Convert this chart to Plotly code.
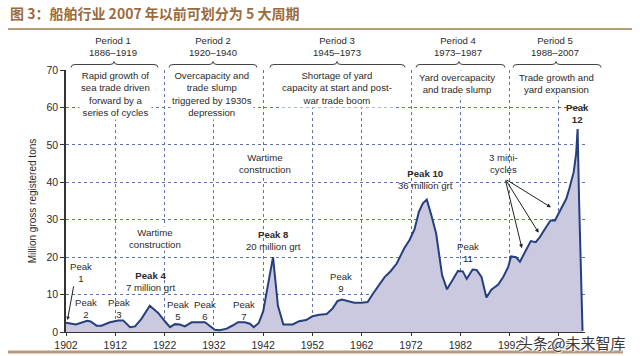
import plotly.graph_objects as go

# ---------------- data ----------------
years = [1902, 1904, 1906.3, 1907, 1908.2, 1909.2, 1910.9, 1912.6, 1913.6, 1915, 1916,
         1917.3, 1919, 1920.7, 1922.1, 1923.1, 1924.1, 1925.1, 1926.1, 1927.5, 1929.2,
         1930.2, 1931.2, 1932.2, 1933.2, 1934.6, 1935.9, 1936.9, 1938.3, 1939.3, 1940.1,
         1941.1, 1942, 1943, 1944, 1945, 1946.1, 1948, 1949.3, 1950.7, 1952, 1953.4,
         1954.9, 1956.1, 1957.1, 1958, 1959.2, 1960.5, 1961.9, 1963.2, 1964.2, 1965.4,
         1966.6, 1967.9, 1969.1, 1970.6, 1971.7, 1972.7, 1973.6, 1974.4, 1975.2, 1976.1,
         1977.1, 1978.3, 1979.3, 1980.4, 1981.5, 1982.5, 1983.3, 1984.5, 1985.3, 1986.3,
         1987.3, 1988.3, 1989.7, 1990.7, 1991.7, 1992.3, 1993.3, 1994.1, 1995.3, 1996.3,
         1997.3, 1998.1, 1999.3, 2000.3, 2001.2, 2001.7, 2002.7, 2003.5, 2004.1, 2005,
         2005.5, 2005.8, 2006.1, 2006.8]
tonnage = [2.5, 2.0, 3.0, 2.8, 1.7, 1.7, 2.6, 3.1, 3.1, 1.3, 1.5,
           3.5, 7.0, 5.1, 2.8, 1.3, 2.1, 2.0, 1.5, 2.6, 2.6,
           2.6, 1.6, 0.6, 0.5, 0.9, 1.8, 2.6, 2.6, 2.2, 1.3,
           2.4, 5.5, 12.5, 20.0, 7.0, 2.0, 2.0, 2.9, 3.2, 4.2, 4.6,
           4.8, 6.3, 8.3, 8.7, 8.3, 7.8, 7.8, 8.0, 10.1, 12.2,
           14.6, 16.3, 18.3, 22.3, 24.6, 27.4, 32.1, 34.4, 35.4, 31.3,
           26.3, 15.2, 11.4, 13.8, 16.3, 16.2, 14.2, 16.7, 16.6, 14.7,
           9.2, 11.3, 12.7, 14.7, 17.3, 20.2, 20.0, 18.8, 21.8, 24.3,
           24.0, 25.3, 27.8, 29.8, 29.8, 31.1, 33.5, 35.6, 38.2, 42.7,
           47.6, 54.2, 35.0, 0.3]

tick_years = [1902, 1912, 1922, 1932, 1942, 1952, 1962, 1972, 1982, 1992, 2002]

title_text = "图 3：船舶行业 2007 年以前可划分为 5 大周期"
y_title = "Million gross registered tons"

periods = ["Period 1<br>1886–1919", "Period 2<br>1920–1940", "Period 3<br>1945–1973",
           "Period 4<br>1973–1987", "Period 5<br>1988–2007"]
period_desc = ["Rapid growth of<br>sea trade driven<br>forward by a<br>series of cycles",
               "Overcapacity and<br>trade slump<br>triggered by 1930s<br>depression",
               "Shortage of yard<br>capacity at start and post-<br>war trade boom",
               "Yard overcapacity<br>and trade slump",
               "Trade growth and<br>yard expansion"]
# label positions in data units (year, value)
period_desc_pos = [(1912, 63.7), (1931.6, 63.7), (1956.9, 65.1), (1981.4, 66.5), (2001.6, 66.5)]
peak_labels = [
    ("Peak<br>1", 1905.0, 15.8, False),
    ("Peak<br>2", 1906.0, 6.3, False),
    ("Peak<br>3", 1912.7, 6.3, False),
    ("<b>Peak 4</b><br>7 million grt", 1919.1, 13.6, False),
    ("Peak<br>5", 1924.7, 5.8, False),
    ("Peak<br>6", 1930.1, 5.8, False),
    ("Peak<br>7", 1938.1, 5.8, False),
    ("<b>Peak 8</b><br>20 million grt", 1944.1, 24.4, False),
    ("Peak<br>9", 1957.8, 13.2, False),
    ("<b>Peak 10</b><br>36 million grt", 1974.9, 40.8, False),
    ("Peak<br>11", 1983.6, 21.2, False),
    ("<b>Peak<br>12</b>", 2005.8, 58.4, False),
    ("3 mini-<br>cycles", 1990.7, 44.9, False),
    ("Wartime<br>construction", 1920.0, 25.0, True),
    ("Wartime<br>construction", 1942.3, 45.0, True),
]
mini_cycle_targets = [(1994.5, 22.4), (1997.9, 26.5), (2000.4, 33.3)]
mini_cycle_origin = (1991.1, 40.9)

# ---------------- layout geometry ----------------
W, H = 640, 356
L, R, T, Bm = 66, 55, 70, 24
PW, PH = W - L - R, H - T - Bm
BOT = H - Bm

def bx(px):
    return (px - L) / PW

def by(py):
    return (BOT - py) / PH

FONT = "Liberation Sans, Arial, Helvetica, sans-serif"
TXT = "#2b2b2b"
GRID = "#5f72ad"
FS = 9.6

fig = go.Figure()
fig.add_trace(go.Scatter(
    x=years, y=tonnage, mode="lines", fill="tozeroy",
    fillcolor="#cac9e0", line=dict(color="#263f7d", width=2),
    hoverinfo="x+y", showlegend=False))

annotations = []
# period headers
header_px = [113, 213, 337, 458, 555]
for txt, px in zip(periods, header_px):
    annotations.append(dict(text=txt, xref="paper", yref="paper", x=bx(px), y=by(46.5),
                            showarrow=False, font=dict(size=FS, color=TXT, family=FONT),
                            xanchor="center", yanchor="middle"))
for txt, (xv, yv) in zip(period_desc, period_desc_pos):
    annotations.append(dict(text=txt, x=xv, y=yv, showarrow=False,
                            font=dict(size=FS, color=TXT, family=FONT),
                            bgcolor="white", borderpad=1,
                            xanchor="center", yanchor="middle"))
for txt, xv, yv, bg in peak_labels:
    annotations.append(dict(text=txt, x=xv, y=yv, showarrow=False,
                            font=dict(size=FS, color=TXT, family=FONT),
                            bgcolor="white" if bg else "rgba(0,0,0,0)", borderpad=0,
                            xanchor="center", yanchor="middle"))
# arrow for peak 1
annotations.append(dict(x=1902.3, y=3.2, ax=1903.6, ay=12.6, xref="x", yref="y",
                        axref="x", ayref="y", text="", showarrow=True, arrowhead=2,
                        arrowsize=0.7, arrowwidth=1, arrowcolor="#222"))
for tx, ty in mini_cycle_targets:
    annotations.append(dict(x=tx, y=ty, ax=mini_cycle_origin[0], ay=mini_cycle_origin[1],
                            xref="x", yref="y", axref="x", ayref="y", text="",
                            showarrow=True, arrowhead=2, arrowsize=0.8, arrowwidth=1,
                            arrowcolor="#222"))
# watermark
annotations.append(dict(text="头条 @未来智库", xref="paper", yref="paper",
                        x=bx(572), y=by(342), showarrow=False,
                        font=dict(size=15, color="#3a3a3a",
                                  family="Noto Sans CJK SC, sans-serif",
                                  shadow="1px 1px 1px white, -1px -1px 1px white"),
                        xanchor="center", yanchor="middle"))

shapes = []
# title rule and bottom rule
shapes.append(dict(type="line", xref="paper", yref="paper", x0=bx(8), x1=bx(632),
                   y0=by(29), y1=by(29), line=dict(color="#b79a7c", width=2)))
shapes.append(dict(type="line", xref="paper", yref="paper", x0=bx(8), x1=bx(623),
                   y0=by(352), y1=by(352), line=dict(color="#b79a7c", width=3)))
# braces
braces = [(71, 158, 114), (169, 257, 213), (270, 405, 337), (416, 505, 459), (513, 601, 556)]
for x0, x1, tip in braces:
    p = (f"M{bx(x0)},{by(67.5)} Q{bx(x0)},{by(64.5)} {bx(x0+4)},{by(64.5)} "
         f"L{bx(tip-4)},{by(64.5)} Q{bx(tip)},{by(64.5)} {bx(tip)},{by(61.5)} "
         f"Q{bx(tip)},{by(64.5)} {bx(tip+4)},{by(64.5)} "
         f"L{bx(x1-4)},{by(64.5)} Q{bx(x1)},{by(64.5)} {bx(x1)},{by(67.5)}")
    shapes.append(dict(type="path", xref="paper", yref="paper", path=p,
                       line=dict(color="#444", width=1)))

fig.update_layout(
    width=W, height=H,
    margin=dict(l=L, r=R, t=T, b=Bm, autoexpand=False),
    paper_bgcolor="white", plot_bgcolor="white",
    title=dict(text=f"<b>{title_text}</b>", x=10 / W, xanchor="left",
               y=1 - 14 / H, yanchor="middle", yref="container",
               font=dict(size=14, color="#9b6b3d", family="Noto Sans CJK SC, sans-serif")),
    xaxis=dict(range=[1902, 2007.3], tickvals=tick_years, showgrid=True, automargin=False,
               gridcolor=GRID, griddash="dot", gridwidth=1, zeroline=False,
               showline=True, linecolor="#333", linewidth=1, ticks="outside",
               ticklen=3, tickcolor="#333",
               tickfont=dict(size=10.5, color=TXT, family=FONT)),
    yaxis=dict(range=[0, 70], tickvals=[0, 10, 20, 30, 40, 50, 60, 70], showgrid=True,
               automargin=False, gridcolor=GRID, griddash="dot",
               gridwidth=1, zeroline=False, showline=True, linecolor="#333",
               linewidth=1.5, ticks="outside", ticklen=4, tickcolor="#333",
               tickfont=dict(size=10.5, color=TXT, family=FONT),
               title=dict(text=y_title, standoff=8,
                          font=dict(size=10, color=TXT, family=FONT))),
    annotations=annotations,
    shapes=shapes,
)

fig.write_html("out.html", config={"displayModeBar": False},
               post_script="document.body.style.margin='0px';document.body.style.overflow='hidden';")
